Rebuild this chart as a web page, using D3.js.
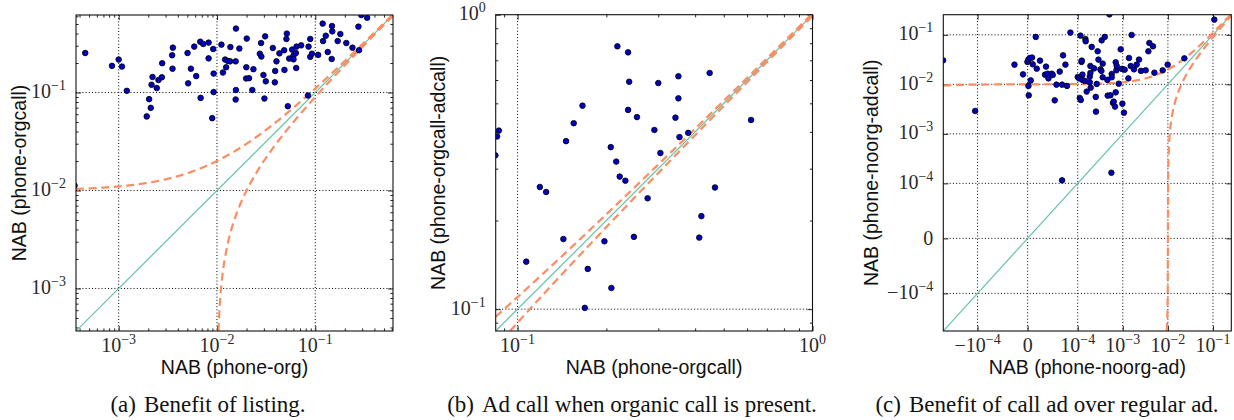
<!DOCTYPE html>
<html><head><meta charset="utf-8">
<script src="https://cdn.jsdelivr.net/npm/d3@7"></script>
<style>body{margin:0;background:#fff}svg{display:block}</style>
</head><body><svg id="c" width="1234" height="420"></svg>
<script>
// ---------- DATA ----------
const aX=[4.57e-4,8.55e-4,1.0e-3,1.08e-3,1.21e-3,1.93e-3,2.04e-3,2.12e-3,2.16e-3,2.21e-3,
2.44e-3,2.54e-3,2.75e-3,2.77e-3,3.53e-3,3.50e-3,3.56e-3,5.02e-3,5.09e-3,5.43e-3,
5.87e-3,6.15e-3,6.76e-3,6.82e-3,7.25e-3,8.22e-3,8.22e-3,9.16e-3,9.25e-3,9.25e-3,
8.95e-3,0.0111,0.0115,0.0121,0.0124,0.0129,0.0136,0.0137,0.0156,0.0155,
0.0156,0.0155,0.0169,0.0198,0.0199,0.0201,0.0212,0.0229,0.0235,0.0273,
0.0281,0.0283,0.0297,0.0309,0.0314,0.0304,0.0370,0.0388,0.0391,0.0403,
0.0432,0.0483,0.0486,0.0509,0.0514,0.0526,0.0543,0.0582,0.0601,0.0601,
0.0635,0.0640,0.0645,0.0719,0.0843,0.0855,0.0889,0.0889,0.0925,0.107,
0.119,0.128,0.120,0.134,0.148,0.149,0.147,0.169,0.180,0.207,
0.239,0.275,0.279,0.294,0.337,3.56e-4];
const aY=[0.253,0.187,0.217,0.184,0.104,0.057,0.0855,0.0697,0.120,0.144,
0.111,0.134,0.143,0.199,0.175,0.240,0.287,0.253,0.124,0.175,
0.294,0.147,0.330,0.0881,0.313,0.323,0.223,0.278,0.156,0.101,
0.0547,0.308,0.160,0.217,0.181,0.210,0.208,0.291,0.449,0.208,
0.106,0.0849,0.281,0.139,0.181,0.355,0.140,0.106,0.173,0.249,
0.320,0.233,0.151,0.374,0.130,0.0869,0.285,0.127,0.166,0.208,
0.251,0.270,0.170,0.352,0.399,0.0725,0.222,0.274,0.238,0.218,
0.253,0.178,0.294,0.303,0.0932,0.294,0.352,0.231,0.249,0.242,
0.505,0.380,0.335,0.259,0.477,0.421,0.220,0.335,0.395,0.320,
0.287,0.470,0.270,0.617,0.580,0.0112];

const bX=[0.218,0.237,0.239,0.300,0.351,0.448,0.351,0.166,0.237,0.254,
0.343,0.619,0.155,0.291,0.379,0.354,0.0864,0.0852,0.0841,0.146,
0.207,0.305,0.216,0.222,0.232,0.119,0.125,0.467,0.276,0.420,
0.143,0.197,0.248,0.413,0.107,0.173,0.208,0.169];
const bY=[0.781,0.745,0.592,0.586,0.618,0.634,0.520,0.491,0.475,0.449,
0.447,0.439,0.428,0.406,0.397,0.384,0.404,0.386,0.333,0.372,
0.355,0.339,0.317,0.282,0.273,0.260,0.250,0.259,0.238,0.207,
0.173,0.170,0.176,0.175,0.145,0.137,0.118,0.101];

const cX=[-5.82e-4,-1.13e-4,-2.63e-5,-9.2e-6,-4e-7,1.6e-6,4.2e-6,8.8e-6,1.02e-5,1.6e-6,
2.2e-6,6.2e-6,1.62e-5,1.82e-5,2.47e-5,3.47e-5,3.67e-5,4.01e-5,4.15e-5,4.81e-5,
5.01e-5,5.41e-5,5.75e-5,6.41e-5,6.87e-5,7.07e-5,7.54e-5,7.86e-5,8.54e-5,1.0e-4,
1.15e-4,1.07e-4,1.11e-4,1.17e-4,1.21e-4,1.23e-4,1.27e-4,1.27e-4,1.48e-4,1.50e-4,
1.45e-4,1.58e-4,1.85e-4,1.85e-4,1.91e-4,1.91e-4,1.94e-4,2.04e-4,2.30e-4,2.51e-4,
2.54e-4,2.64e-4,2.77e-4,2.88e-4,3.18e-4,3.35e-4,3.40e-4,3.58e-4,3.58e-4,3.97e-4,
4.55e-4,4.62e-4,5.04e-4,5.31e-4,5.67e-4,5.67e-4,6.06e-4,6.28e-4,6.71e-4,6.96e-4,
6.96e-4,7.21e-4,7.32e-4,8.11e-4,8.98e-4,9.60e-4,9.79e-4,1.06e-3,1.10e-3,1.33e-3,
1.37e-3,1.50e-3,1.57e-3,1.77e-3,2.03e-3,2.29e-3,2.53e-3,3.22e-3,3.69e-3,3.88e-3,
4.67e-3,5.02e-3,7.67e-3,9.89e-3,0.0232,0.107,6.87e-5,5.58e-4];
const cY=[0.0305,0.0029,0.0250,0.0159,0.0284,0.0316,0.0341,0.0347,0.0254,0.00929,
0.0060,0.0120,0.0908,0.0207,0.0301,0.0157,0.0228,0.0164,0.0132,0.0164,
0.0155,0.00475,0.00986,0.0181,0.00986,0.0385,0.0250,0.00929,0.111,0.0141,
0.0964,0.0132,0.0053,0.00484,0.0284,0.0301,0.0157,0.0123,0.0826,0.0740,
0.0117,0.00713,0.0143,0.0110,0.0235,0.0170,0.00857,0.0570,0.0210,0.00557,
0.00281,0.0102,0.0465,0.0316,0.0201,0.0187,0.0774,0.0262,0.0139,0.0908,
0.0123,0.00592,0.259,0.0060,0.0162,0.0139,0.00421,0.00448,0.00355,0.00689,
0.0279,0.0192,0.0235,0.0103,0.0509,0.0205,0.00407,0.00268,0.0198,0.0132,
0.0341,0.0235,0.0995,0.0201,0.0250,0.0316,0.0187,0.0192,0.0465,0.0686,
0.0586,0.0172,0.0192,0.0250,0.0335,0.203,1.15e-4,1.64e-4];

const aDomain=[3.68e-4,0.618], bDomain=[0.0843,1.0], cDomain=[-5.75e-4,0.255];
const aTickVals=[1e-3,1e-2,1e-1], aTickLabels=["10^−3","10^−2","10^−1"];
const bTickVals=[0.1,1], bTickLabels=["10^−1","10^0"];
const cTickVals=[-1e-4,0,1e-4,1e-3,1e-2,1e-1], cTickLabels=["−10^−4","0","10^−4","10^−3","10^−2","10^−1"];
const refOffset=0.01; // dashed lines y = x ± 0.01
const xTitles=["NAB (phone-org)","NAB (phone-orgcall)","NAB (phone-noorg-ad)"];
const yTitles=["NAB (phone-orgcall)","NAB (phone-orgcall-adcall)","NAB (phone-noorg-adcall)"];
const capLabels=["(a)","(b)","(c)"];
const capTexts=["Benefit of listing.","Ad call when organic call is present.","Benefit of call ad over regular ad."];

// ---------- HELPERS ----------
const svg=d3.select("#c");
const defs=svg.append("defs");
const TEAL="#66c2a5", ORANGE="#fc8d62";
const LT=1e-4, LS=1/(1-1/10);
const symT=v=>{const a=Math.abs(v);return a<=LT? v/LT*LS : Math.sign(v)*(LS+Math.log10(a/LT));};
const symInv=t=>{const a=Math.abs(t);return a<=LS? t/LS*LT : Math.sign(t)*LT*Math.pow(10,a-LS);};

function tickLabel(g,x,y,str,anchor){
  const t=g.append("text").attr("x",x).attr("y",y).attr("text-anchor",anchor)
    .attr("font-family","'Liberation Serif',serif").attr("font-size",20).attr("fill","#2a2a2a");
  const m=str.split("^");
  t.append("tspan").text(m[0]);
  if(m.length>1) t.append("tspan").attr("dy",-8).attr("font-size",14).text(m[1]);
}

function panel(cfg){
  const {id,x0,x1,y0,y1,sx,sy,tf,u,uInv,dom}=cfg;
  const fx=v=>sx(tf(v)), fy=v=>sy(tf(v));
  const g=svg.append("g");
  defs.append("clipPath").attr("id","clip"+id).append("rect")
    .attr("x",x0).attr("y",y0).attr("width",x1-x0).attr("height",y1-y0);
  // grid
  const gg=g.append("g").attr("stroke","#000").attr("stroke-width",1).attr("stroke-dasharray","1,2.2");
  cfg.majors.forEach(v=>{
    const px=fx(v), py=fy(v);
    if(px>x0+1&&px<x1-1) gg.append("line").attr("x1",px).attr("x2",px).attr("y1",y0).attr("y2",y1);
    if(py>y0+1&&py<y1-1) gg.append("line").attr("y1",py).attr("y2",py).attr("x1",x0).attr("x2",x1);
  });
  // ticks via d3 axes (inward, all four sides)
  const tv=cfg.majors.map(tf);
  function ax(gen,scale,vals,len,tr){
    g.append("g").attr("transform",tr)
      .call(gen(scale).tickValues(vals).tickSizeInner(-len).tickSizeOuter(0).tickFormat(""))
      .call(s=>{s.select(".domain").remove();s.selectAll("line").attr("stroke","#222").attr("stroke-width",1);});
  }
  const sets=[[tv,5]];
  if(cfg.minors) sets.push([cfg.minors,2.6]);
  sets.forEach(([vals,len])=>{
    ax(d3.axisBottom,sx,vals,len,`translate(0,${y1})`);
    ax(d3.axisTop,sx,vals,len,`translate(0,${y0})`);
    ax(d3.axisLeft,sy,vals,len,`translate(${x0},0)`);
    ax(d3.axisRight,sy,vals,len,`translate(${x1},0)`);
  });
  // reference lines
  const lg=g.append("g").attr("clip-path",`url(#clip${id})`);
  const n=700, u0=u(dom[0]), u1=u(dom[1]);
  const us=d3.range(n+1).map(i=>u0+(u1-u0)*i/n);
  const line=d3.line().x(d=>fx(d[0])).y(d=>fy(d[1]));
  lg.append("path").attr("d",line([[dom[0],dom[0]],[dom[1],dom[1]]]))
    .attr("fill","none").attr("stroke",TEAL).attr("stroke-width",1.2);
  const up=us.map(t=>{const x=uInv(t);return [x,x+refOffset];}).filter(d=>d[1]<=dom[1]*1.05);
  const lo=us.map(t=>{const y=uInv(t);return [y+refOffset,y];}).filter(d=>d[0]<=dom[1]*1.05);
  [up,lo].forEach(d=>lg.append("path").attr("d",line(d)).attr("fill","none")
    .attr("stroke",ORANGE).attr("stroke-width",2.2).attr("stroke-dasharray","8,4.6"));
  // points
  const pg=g.append("g").attr("clip-path",`url(#clip${id})`);
  cfg.xs.forEach((xv,i)=>{
    pg.append("circle").attr("cx",fx(xv)).attr("cy",fy(cfg.ys[i])).attr("r",2.8)
      .attr("fill","#0000c4").attr("stroke","#000").attr("stroke-width",0.8);
  });
  // frame
  g.append("rect").attr("x",x0).attr("y",y0).attr("width",x1-x0).attr("height",y1-y0)
    .attr("fill","none").attr("stroke","#111").attr("stroke-width",1.1);
  // tick labels
  cfg.majors.forEach((v,i)=>{
    tickLabel(g,fx(v),y1+21,cfg.labels[i],"middle");
    const hasExp=cfg.labels[i].includes("^");
    tickLabel(g,x0-10,fy(v)+(hasExp?5.5:7),cfg.labels[i],"end");
  });
  // titles
  g.append("text").attr("x",(x0+x1)/2).attr("y",374).attr("text-anchor","middle")
    .attr("font-family","'Liberation Sans',Arial,sans-serif").attr("font-size",19.5).attr("fill","#111")
    .text(xTitles[id]);
  g.append("text").attr("transform",`translate(${cfg.ylx},${(y0+y1)/2}) rotate(-90)`).attr("text-anchor","middle")
    .attr("font-family","'Liberation Sans',Arial,sans-serif").attr("font-size",19.5).attr("fill","#111")
    .text(yTitles[id]);
  const cap=g.append("text").attr("x",cfg.capx).attr("y",412).attr("text-anchor","middle")
    .attr("font-family","'Liberation Serif',serif").attr("font-size",23).attr("fill","#111");
  cap.append("tspan").text(capLabels[id]);
  cap.append("tspan").attr("dx",8).text(capTexts[id]);
}

function logMinors(dom,majors){
  return d3.scaleLog().domain(dom).ticks().filter(v=>!majors.some(m=>Math.abs(m-v)/m<1e-6));
}

// Panel (a)
{
  const x0=76,x1=393,y0=15,y1=331;
  panel({id:0,x0,x1,y0,y1,dom:aDomain,
    sx:d3.scaleLog().domain(aDomain).range([x0,x1]),
    sy:d3.scaleLog().domain(aDomain).range([y1,y0]),
    tf:v=>v,u:Math.log10,uInv:t=>Math.pow(10,t),
    majors:aTickVals,labels:aTickLabels,minors:logMinors(aDomain,aTickVals),
    xs:aX,ys:aY,ylx:26,capx:208});
}
// Panel (b)
{
  const x0=495.7,x1=812.5,y0=14.7,y1=331;
  panel({id:1,x0,x1,y0,y1,dom:bDomain,
    sx:d3.scaleLog().domain(bDomain).range([x0,x1]),
    sy:d3.scaleLog().domain(bDomain).range([y1,y0]),
    tf:v=>v,u:Math.log10,uInv:t=>Math.pow(10,t),
    majors:bTickVals,labels:bTickLabels,minors:logMinors(bDomain,bTickVals),
    xs:bX,ys:bY,ylx:445,capx:632});
}
// Panel (c) symlog
{
  const x0=943.3,x1=1231.3,y0=14.7,y1=331;
  const tdom=cDomain.map(symT);
  panel({id:2,x0,x1,y0,y1,dom:cDomain,
    sx:d3.scaleLinear().domain(tdom).range([x0,x1]),
    sy:d3.scaleLinear().domain(tdom).range([y1,y0]),
    tf:symT,u:symT,uInv:symInv,
    majors:cTickVals,labels:cTickLabels,minors:null,
    xs:cX,ys:cY,ylx:878,capx:1047});
}
</script></body></html>
